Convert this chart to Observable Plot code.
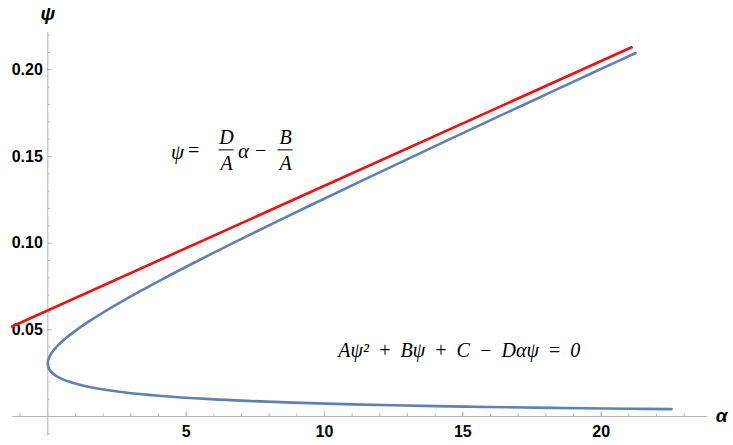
<!DOCTYPE html>
<html>
<head>
<meta charset="utf-8">
<script src="https://cdn.jsdelivr.net/npm/d3@7"></script>
<script src="https://cdn.jsdelivr.net/npm/@observablehq/plot@0.6"></script>
<style>
  html, body { margin: 0; padding: 0; background: #fff; }
  #chart { width: 733px; height: 445px; }
</style>
</head>
<body>
<div id="chart"></div>
<script>
// ---- data ----
// implicit curve  A psi^2 + B psi + C - D alpha psi = 0
const curvePsi = [0.00427, 0.0045, 0.005, 0.0055, 0.006, 0.007, 0.008, 0.009, 0.010, 0.012,
  0.014, 0.016, 0.018, 0.020, 0.022, 0.024, 0.026, 0.028, 0.0306, 0.033, 0.036, 0.040,
  0.045, 0.050, 0.055, 0.060, 0.070, 0.080, 0.090, 0.100, 0.120, 0.140, 0.160, 0.180,
  0.200, 0.2097];
const curveAlpha = [22.54, 21.01, 18.19, 15.90, 14.00, 11.04, 8.86, 7.19, 5.89, 4.00,
  2.73, 1.85, 1.22, 0.78, 0.465, 0.25, 0.111, 0.032, 0.0, 0.023, 0.111, 0.306,
  0.639, 1.044, 1.503, 2.00, 3.079, 4.236, 5.444, 6.689, 9.25, 11.873, 14.535, 17.222,
  19.928, 21.245];
// asymptote  psi = (D/A) alpha - B/A  (red line end points)
const lineAlpha = [-1.29, 21.1];
const linePsi = [0.0519, 0.213];
// axes
const xTicks = [5, 10, 15, 20];
const yTicks = [0.05, 0.10, 0.15, 0.20];
const xMinor = d3.range(-1, 24);
const yMinor = d3.range(-1, 23).map(d => d / 100);
const xAxisExtent = [-1.27, 23.85];
const yAxisExtent = [-0.011, 0.2215];
const xLabel = "α";
const yLabel = "ψ";
// annotations
const eq1Anchor = {a: 6.46, p: 0.1538};
const eq2Anchor = {a: 10.5, p: 0.038};
const eq2Text = "Aψ² \u2009+\u2009 Bψ \u2009+\u2009 C \u2009−\u2009 Dαψ \u2009=\u2009 0";

const curve = curvePsi.map((p, i) => ({a: curveAlpha[i], p}));
const line = linePsi.map((p, i) => ({a: lineAlpha[i], p}));

const AXIS = "#b5b5b5";
const BLUE = "#5E81B5";
const RED = "#f01010";
const SANS = "'Liberation Sans', Arial, sans-serif";
const SERIF = "'Liberation Serif', 'Times New Roman', serif";

const E1 = [eq1Anchor];
const E2 = [eq2Anchor];

const chart = Plot.plot({
  width: 733,
  height: 445,
  margin: 0,
  style: {background: "#fff", overflow: "visible"},
  x: {domain: [0, 20], range: [47.3, 600.7]},
  y: {domain: [0, 0.2], range: [416, 69.3]},
  axis: null,
  marks: [
    // axis lines crossing at origin
    Plot.ruleY([0], {x1: xAxisExtent[0], x2: xAxisExtent[1], stroke: AXIS, strokeWidth: 1}),
    Plot.ruleX([0], {y1: yAxisExtent[0], y2: yAxisExtent[1], stroke: AXIS, strokeWidth: 1}),
    // minor ticks
    Plot.ruleX(xMinor, {x: d => d, y1: 0, y2: 0, insetTop: -2.5, stroke: AXIS, strokeWidth: 1}),
    Plot.ruleY(yMinor, {y: d => d, x1: 0, x2: 0, insetRight: -2.5, stroke: AXIS, strokeWidth: 1}),
    // major ticks
    Plot.ruleX(xTicks, {x: d => d, y1: 0, y2: 0, insetTop: -4.5, stroke: AXIS, strokeWidth: 1}),
    Plot.ruleY(yTicks, {y: d => d, x1: 0, x2: 0, insetRight: -4.5, stroke: AXIS, strokeWidth: 1}),
    // tick labels
    Plot.text(xTicks, {x: d => d, y: 0, text: d => String(d), dy: 15, fontSize: 16, fontWeight: "bold", fontFamily: SANS, fill: "#000"}),
    Plot.text(yTicks, {x: 0, y: d => d, text: d => d3.format(".2f")(d), dx: -5, textAnchor: "end", fontSize: 16, fontWeight: "bold", fontFamily: SANS, fill: "#000"}),
    // axis labels
    Plot.text([xLabel], {x: xAxisExtent[1], y: 0, text: d => d, dx: 14, dy: -1, fontSize: 19, fontWeight: "bold", fontStyle: "italic", fontFamily: SANS, fill: "#000"}),
    Plot.text([yLabel], {x: 0, y: yAxisExtent[1], text: d => d, dy: -19, fontSize: 19, fontWeight: "bold", fontStyle: "italic", fontFamily: SANS, fill: "#000"}),
    // curves
    Plot.line(curve, {x: "a", y: "p", curve: "catmull-rom", stroke: BLUE, strokeWidth: 2.6}),
    Plot.line(line, {x: "a", y: "p", stroke: RED, strokeWidth: 2.6}),
    // equation 1: psi = D/A alpha - B/A
    Plot.text(E1, {x: "a", y: "p", text: () => "ψ", dx: -49, dy: 2, fontSize: 21, fontStyle: "italic", fontFamily: SERIF, fill: "#000"}),
    Plot.text(E1, {x: "a", y: "p", text: () => "=", dx: -33, dy: 1, fontSize: 20, fontFamily: SERIF, fill: "#000"}),
    Plot.text(E1, {x: "a", y: "p", text: () => "D", dy: -12, fontSize: 20, fontStyle: "italic", fontFamily: SERIF, fill: "#000"}),
    Plot.text(E1, {x: "a", y: "p", text: () => "A", dy: 14, fontSize: 20, fontStyle: "italic", fontFamily: SERIF, fill: "#000"}),
    Plot.ruleY(E1, {y: "p", x1: "a", x2: "a", insetLeft: -7.5, insetRight: -7.5, stroke: "#000", strokeWidth: 1}),
    Plot.text(E1, {x: "a", y: "p", text: () => "α", dx: 17, dy: 1, fontSize: 21, fontStyle: "italic", fontFamily: SERIF, fill: "#000"}),
    Plot.text(E1, {x: "a", y: "p", text: () => "−", dx: 34, dy: 1, fontSize: 20, fontFamily: SERIF, fill: "#000"}),
    Plot.text(E1, {x: "a", y: "p", text: () => "B", dx: 59, dy: -12, fontSize: 20, fontStyle: "italic", fontFamily: SERIF, fill: "#000"}),
    Plot.text(E1, {x: "a", y: "p", text: () => "A", dx: 59, dy: 14, fontSize: 20, fontStyle: "italic", fontFamily: SERIF, fill: "#000"}),
    Plot.ruleY(E1, {y: "p", x1: "a", x2: "a", dx: 59, insetLeft: -7.5, insetRight: -7.5, stroke: "#000", strokeWidth: 1}),
    // equation 2
    Plot.text(E2, {x: "a", y: "p", text: () => eq2Text, textAnchor: "start", fontSize: 20, fontStyle: "italic", fontFamily: SERIF, fill: "#000"})
  ]
});
document.getElementById("chart").appendChild(chart);
</script>
</body>
</html>
